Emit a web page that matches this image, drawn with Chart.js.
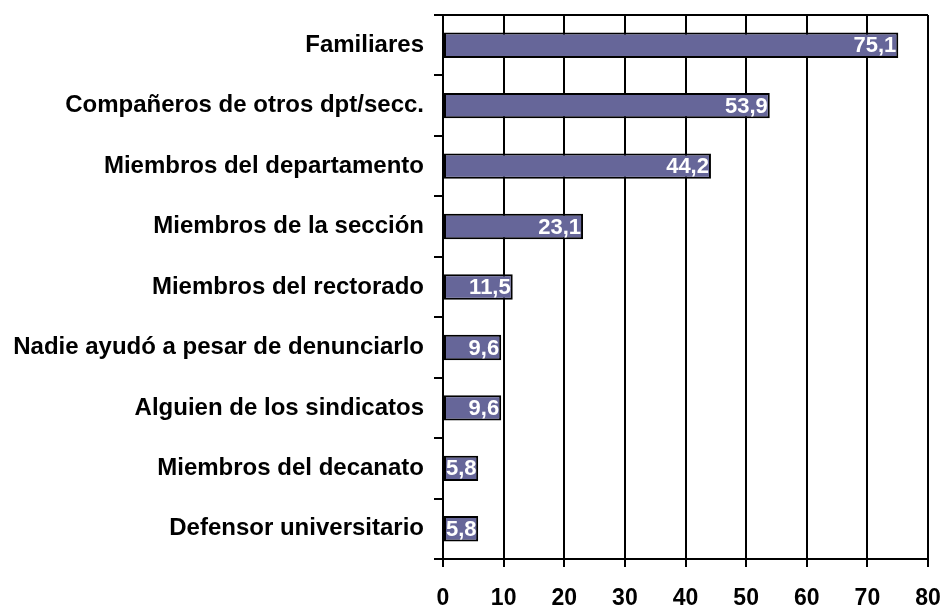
<!DOCTYPE html>
<html><head><meta charset="utf-8">
<script src="https://cdn.jsdelivr.net/npm/chart.js@4"></script>
<style>html,body{margin:0;padding:0;background:#fff}#wrap{width:945px;height:605px}</style>
</head><body><div id="wrap"><canvas id="c" width="945" height="605"></canvas></div>
<script>
const categories = ["Familiares","Compañeros de otros dpt/secc.","Miembros del departamento","Miembros de la sección","Miembros del rectorado","Nadie ayudó a pesar de denunciarlo","Alguien de los sindicatos","Miembros del decanato","Defensor universitario"];
const values = [75.1,53.9,44.2,23.1,11.5,9.6,9.6,5.8,5.8];
const xTicks = [0,10,20,30,40,50,60,70,80];

const FONT = "'Liberation Sans', Arial, sans-serif";

const labelPlugin = {
  id: 'valLabels',
  afterDatasetsDraw(chart) {
    const ctx = chart.ctx;
    const meta = chart.getDatasetMeta(0);
    ctx.save();
    ctx.font = "bold 22px " + FONT;
    ctx.fillStyle = "#ffffff";
    ctx.textAlign = "right";
    ctx.textBaseline = "middle";
    meta.data.forEach((bar, i) => {
      const txt = values[i].toFixed(1).replace('.', ',');
      const w = ctx.measureText(txt).width;
      const base = chart.scales.x.getPixelForValue(0);
      let x = bar.x - 2;
      if (x - w < base + 3) x = base + 3 + w;
      ctx.fillText(txt, x, bar.y + 1);
    });
    ctx.restore();
  }
};

const borderPlugin = {
  id: 'box',
  afterDraw(chart) {
    const a = chart.chartArea, ctx = chart.ctx;
    ctx.save();
    ctx.strokeStyle = '#000'; ctx.lineWidth = 2;
    ctx.beginPath();
    ctx.moveTo(a.left, a.top); ctx.lineTo(a.right, a.top);
    ctx.stroke();
    ctx.restore();
  }
};

new Chart(document.getElementById('c'), {
  type: 'bar',
  data: {
    labels: categories,
    datasets: [{
      data: values,
      backgroundColor: '#666699',
      borderColor: '#000000',
      borderWidth: 2,
      borderSkipped: false,
      barPercentage: 0.42,
      categoryPercentage: 1.0
    }]
  },
  options: {
    indexAxis: 'y',
    responsive: false,
    animation: false,
    layout: { padding: { top: 15, right: 17, left: 0, bottom: 0 } },
    plugins: { legend: { display: false }, tooltip: { enabled: false } },
    scales: {
      x: {
        min: 0, max: 80,
        afterBuildTicks(s) { s.ticks = xTicks.map(v => ({ value: v })); },
        ticks: { color: '#000', font: { family: FONT, size: 23, weight: 'bold' }, padding: 18 },
        grid: { color: '#000', lineWidth: 2, drawTicks: true, tickLength: 8, tickColor: '#000' },
        border: { display: true, color: '#000', width: 2 },
        afterFit(s) { s.height = 46; s.paddingLeft = 0; s.paddingRight = 0; }
      },
      y: {
        offset: true,
        ticks: { color: '#000', font: { family: FONT, size: 24, weight: 'bold' }, padding: 10 },
        grid: { offset: true, drawOnChartArea: false, drawTicks: true, tickLength: 9, color: '#000', lineWidth: 2 },
        border: { display: true, color: '#000', width: 2 },
        afterFit(s) { s.width = 443; s.paddingTop = 0; s.paddingBottom = 0; }
      }
    }
  },
  plugins: [labelPlugin, borderPlugin]
});
</script>
</body></html>
